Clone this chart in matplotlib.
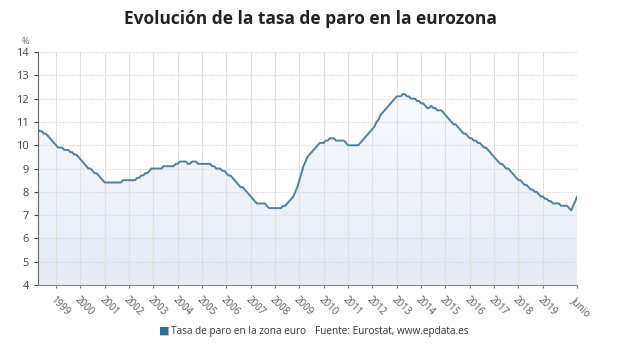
import matplotlib.pyplot as plt
import numpy as np
from matplotlib.colors import LinearSegmentedColormap

# monthly unemployment rate, euro area (%), April 1998 - June 2020
y1998 = [10.7, 10.6, 10.6, 10.5, 10.5, 10.4, 10.3, 10.2, 10.1]
y1999 = [10.0, 9.9, 9.9, 9.9, 9.8, 9.8, 9.8, 9.7, 9.7, 9.6, 9.6, 9.5]
y2000 = [9.4, 9.3, 9.2, 9.1, 9.0, 9.0, 8.9, 8.8, 8.8, 8.7, 8.6, 8.5]
y2001 = [8.4, 8.4, 8.4, 8.4, 8.4, 8.4, 8.4, 8.4, 8.4, 8.5, 8.5, 8.5]
y2002 = [8.5, 8.5, 8.5, 8.5, 8.6, 8.6, 8.7, 8.7, 8.8, 8.8, 8.9, 9.0]
y2003 = [9.0, 9.0, 9.0, 9.0, 9.0, 9.1, 9.1, 9.1, 9.1, 9.1, 9.1, 9.2]
y2004 = [9.2, 9.3, 9.3, 9.3, 9.3, 9.2, 9.2, 9.3, 9.3, 9.3, 9.2, 9.2]
y2005 = [9.2, 9.2, 9.2, 9.2, 9.2, 9.1, 9.1, 9.0, 9.0, 9.0, 8.9, 8.9]
y2006 = [8.8, 8.7, 8.7, 8.6, 8.5, 8.4, 8.3, 8.2, 8.2, 8.1, 8.0, 7.9]
y2007 = [7.8, 7.7, 7.6, 7.5, 7.5, 7.5, 7.5, 7.5, 7.4, 7.3, 7.3, 7.3]
y2008 = [7.3, 7.3, 7.3, 7.3, 7.4, 7.4, 7.5, 7.6, 7.7, 7.8, 8.0, 8.2]
y2009 = [8.5, 8.8, 9.1, 9.3, 9.5, 9.6, 9.7, 9.8, 9.9, 10.0, 10.1, 10.1]
y2010 = [10.1, 10.2, 10.2, 10.3, 10.3, 10.3, 10.2, 10.2, 10.2, 10.2, 10.2, 10.1]
y2011 = [10.0, 10.0, 10.0, 10.0, 10.0, 10.0, 10.1, 10.2, 10.3, 10.4, 10.5, 10.6]
y2012 = [10.7, 10.8, 11.0, 11.1, 11.3, 11.4, 11.5, 11.6, 11.7, 11.8, 11.9, 12.0]
y2013 = [12.1, 12.1, 12.1, 12.2, 12.2, 12.1, 12.1, 12.0, 12.0, 12.0, 11.9, 11.9]
y2014 = [11.8, 11.8, 11.7, 11.6, 11.6, 11.7, 11.6, 11.6, 11.5, 11.5, 11.5, 11.4]
y2015 = [11.3, 11.2, 11.1, 11.0, 10.9, 10.9, 10.8, 10.7, 10.6, 10.5, 10.5, 10.4]
y2016 = [10.3, 10.3, 10.2, 10.2, 10.1, 10.1, 10.0, 9.9, 9.9, 9.8, 9.7, 9.6]
y2017 = [9.5, 9.4, 9.3, 9.2, 9.2, 9.1, 9.0, 9.0, 8.9, 8.8, 8.7, 8.6]
y2018 = [8.5, 8.5, 8.4, 8.3, 8.3, 8.2, 8.1, 8.1, 8.0, 8.0, 7.9, 7.8]
y2019 = [7.8, 7.7, 7.7, 7.6, 7.6, 7.5, 7.5, 7.5, 7.5, 7.4, 7.4, 7.4]
y2020 = [7.4, 7.3, 7.2, 7.4, 7.6, 7.8]

tick_years = list(range(1999, 2020))
tick_labels = [str(a) for a in tick_years] + ['Junio']

rate = (y1998 + y1999 + y2000 + y2001 + y2002 + y2003 + y2004 + y2005 + y2006
        + y2007 + y2008 + y2009 + y2010 + y2011 + y2012 + y2013 + y2014
        + y2015 + y2016 + y2017 + y2018 + y2019 + y2020)
t = 1998 + 3 / 12 + np.arange(len(rate)) / 12

plt.rcParams['font.family'] = ['Open Sans', 'DejaVu Sans']

fig = plt.figure(figsize=(6.2, 3.5), dpi=100)
ax = fig.add_axes([0.061, 0.186, 0.870, 0.665])

ax.set_xlim(t[0], t[-1])
ax.set_ylim(4, 14)

# gradient fill under the line: bluer at the bottom, almost white near the line
cmap = LinearSegmentedColormap.from_list('fill', ['#e5ecf6', '#f8fafd'])
grad = np.linspace(0, 1, 256).reshape(-1, 1)
im = ax.imshow(grad, cmap=cmap, aspect='auto', extent=[t[0], t[-1], 4, 12.3],
               zorder=1, origin='lower')
poly = ax.fill_between(t, rate, 4, color='none', lw=0)
im.set_clip_path(poly.get_paths()[0], transform=ax.transData)

ax.plot(t, rate, color='#4f809f', lw=1.4, zorder=3)

# grid
for v in range(5, 15):
    ax.axhline(v, color='#d6d6d6', lw=0.8, ls=(0, (1, 1)), zorder=2)
for yr in tick_years:
    ax.axvline(yr, color='#e0e0e0', lw=0.8, zorder=2)

ticks = tick_years + [t[-1]]
ax.set_xticks(ticks)
ax.set_xticklabels(tick_labels, rotation=-45, ha='left', va='top',
                   rotation_mode='anchor', fontsize=7, color='#555555')
ax.set_yticks(range(4, 15))
ax.tick_params(axis='y', labelsize=8, colors='#444444', length=3, width=0.8)
ax.tick_params(axis='x', length=2, width=0.8, color='#777777', pad=5)

for s in ['top', 'right']:
    ax.spines[s].set_visible(False)
ax.spines['left'].set_color('#666666')
ax.spines['bottom'].set_color('#888888')
ax.spines['bottom'].set_linestyle((0, (1, 1)))

fig.text(0.5, 0.945, 'Evolución de la tasa de paro en la eurozona',
         ha='center', va='center', fontsize=12.5, fontweight='bold', color='#222222')
fig.text(0.035, 0.882, '%', fontsize=6.5, color='#666666', va='center')

# legend and source
fig.text(0.256, 0.054, '■', fontsize=8, color='#2e6e9e', va='center')
fig.text(0.276, 0.054, 'Tasa de paro en la zona euro', fontsize=7.2, color='#333333', va='center')
fig.text(0.508, 0.054, 'Fuente: Eurostat, www.epdata.es', fontsize=7.2, color='#333333', va='center')

fig.savefig('out.png', dpi=100, facecolor='white')
